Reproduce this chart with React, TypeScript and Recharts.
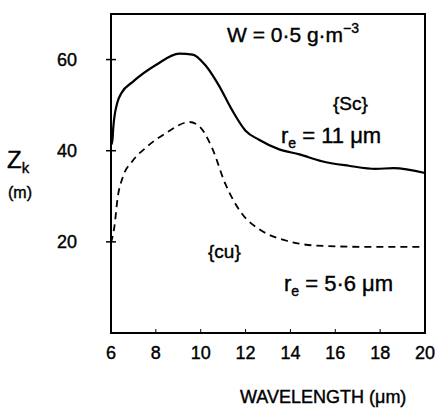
import { LineChart, Line, XAxis, YAxis, ReferenceArea } from 'recharts';

// {Sc} cloud, r_e = 11 um
const scWavelength = [6.0, 6.05, 6.1, 6.28, 6.46, 6.97, 8.0, 9.05, 9.64, 10.2, 10.8, 11.4, 12.0, 12.6, 13.5, 14.4, 15.4, 16.6, 17.8, 18.6, 20];
const scHeight = [42.8, 41.5, 45, 50.5, 52.6, 55.1, 58.8, 61.3, 61.1, 58.8, 54.4, 48.9, 44.4, 42.4, 40.3, 39.2, 37.7, 36.7, 36, 36.2, 35.1];

// {cu} cloud, r_e = 5.6 um
const cuWavelength = [6.0, 6.15, 6.3, 6.52, 6.97, 7.56, 8.46, 9.5, 9.95, 10.5, 11.1, 11.85, 12.7, 13.8, 15.1, 17.4, 20];
const cuHeight = [19.8, 23.3, 29.8, 34.1, 37.8, 40.7, 43.9, 46.3, 45.3, 40.7, 32.7, 26.1, 22.5, 20.3, 19.2, 18.9, 18.9];

const xTicks = [6, 8, 10, 12, 14, 16, 18, 20];
const yTicks = [20, 40, 60];

const FONT = '"Liberation Sans", Arial, sans-serif';

const scData = scWavelength.map((w, i) => ({ w, z: scHeight[i] }));
const cuData = cuWavelength.map((w, i) => ({ w, z: cuHeight[i] }));

function XTick({ x, y, payload }: any) {
  return (
    <g>
      <line x1={x} y1={y} x2={x} y2={y - 4} stroke="#000" strokeWidth={1} />
      <text x={x} y={y + 26} textAnchor="middle" fontSize={18} fontFamily={FONT} fill="#000" stroke="#000" strokeWidth={0.4}>
        {payload.value}
      </text>
    </g>
  );
}

function YTick({ x, y, payload }: any) {
  return (
    <g>
      <line x1={x - 5} y1={y} x2={x + 5} y2={y} stroke="#000" strokeWidth={1.5} />
      <text x={x - 44} y={y + 6} textAnchor="middle" fontSize={18} fontFamily={FONT} fill="#000" stroke="#000" strokeWidth={0.4}>
        {payload.value}
      </text>
    </g>
  );
}

export default function App() {
  return (
    <div style={{ position: 'absolute', left: 0, top: 0, width: 440, height: 416, background: '#fff' }}>
      <LineChart width={440} height={416} margin={{ top: 14, right: 15, left: 51, bottom: 53 }}>
        <XAxis
          dataKey="w"
          type="number"
          domain={[6, 20]}
          ticks={xTicks}
          axisLine={false}
          tickLine={false}
          tickSize={0}
          tickMargin={0}
          height={30}
          tick={<XTick />}
          allowDuplicatedCategory={false}
        />
        <YAxis
          type="number"
          domain={[0, 70]}
          ticks={yTicks}
          axisLine={false}
          tickLine={false}
          tickSize={0}
          tickMargin={0}
          width={60}
          tick={<YTick />}
        />
        <ReferenceArea x1={6} x2={20} y1={0} y2={70} fill="none" stroke="#000" strokeWidth={2} />
        <Line data={scData} dataKey="z" type="monotone" stroke="#000" strokeWidth={2.2} dot={false} isAnimationActive={false} />
        <Line
          data={cuData}
          dataKey="z"
          type="monotone"
          stroke="#000"
          strokeWidth={1.8}
          strokeDasharray="7 5"
          dot={false}
          isAnimationActive={false}
        />
      </LineChart>
      <svg width={440} height={416} style={{ position: 'absolute', left: 0, top: 0, pointerEvents: 'none' }}>
        <g fontFamily={FONT} fill="#000" stroke="#000" strokeWidth={0.4}>
          <text x={227} y={42} fontSize={21} fill="#000">
            W = 0·5 g·m<tspan dy={-9} fontSize={14}>−3</tspan>
          </text>
          <text x={333} y={110} fontSize={19} fill="#000">{'{Sc}'}</text>
          <text x={281} y={143} fontSize={22} fill="#000">
            r<tspan dy={5} fontSize={14}>e</tspan><tspan dy={-5}> = 11 μm</tspan>
          </text>
          <text x={208} y={258} fontSize={19} fill="#000">{'{cu}'}</text>
          <text x={284} y={291} fontSize={22} fill="#000">
            r<tspan dy={5} fontSize={14}>e</tspan><tspan dy={-5}> = 5·6 μm</tspan>
          </text>
          <text x={7} y={168} fontSize={24} fill="#000">
            Z<tspan dy={5} fontSize={15}>k</tspan>
          </text>
          <text x={8} y={198} fontSize={16} fill="#000">(m)</text>
          <text x={240} y={403} fontSize={18} fill="#000">WAVELENGTH (μm)</text>
        </g>
      </svg>
    </div>
  );
}
